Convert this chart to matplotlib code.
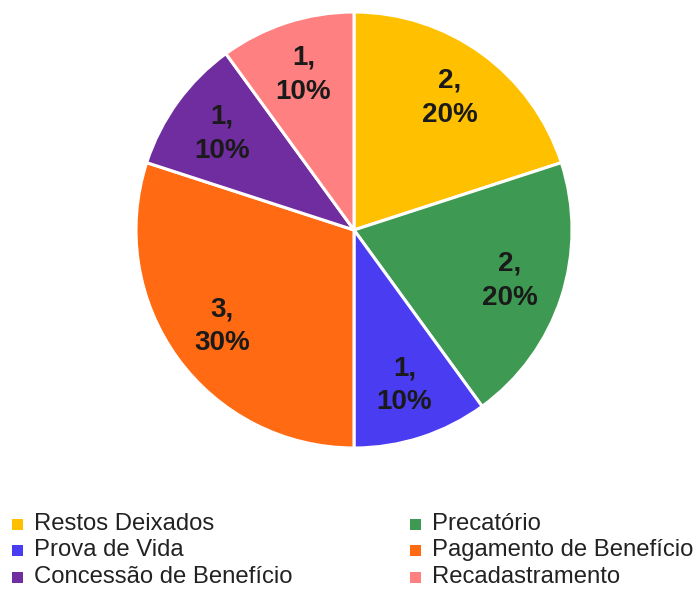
import matplotlib
matplotlib.use("Agg")
import matplotlib.pyplot as plt
from matplotlib.patches import Rectangle

categories = ["Restos Deixados", "Precatório", "Prova de Vida",
              "Pagamento de Benefício", "Concessão de Benefício", "Recadastramento"]
values = [2, 2, 1, 3, 1, 1]
colors = ["#FFC000", "#3E9A52", "#4A3CF0", "#FF6A13", "#6F2DA0", "#FF8080"]

plt.rcParams["font.family"] = ["Liberation Sans", "DejaVu Sans"]

fig = plt.figure(figsize=(7, 5.9), dpi=100)
W, H = 700, 590
cx, cy, r = 354, 230, 218
ax = fig.add_axes([(cx - r) / W, (H - cy - r) / H, 2 * r / W, 2 * r / H])

total = sum(values)
labels = [f"{v},\n{round(100 * v / total)}%" for v in values]

wedges, texts = ax.pie(values, labels=labels, colors=colors, startangle=90,
                       counterclock=False, labeldistance=0.75,
                       wedgeprops=dict(edgecolor="white", linewidth=2.2),
                       textprops=dict(fontsize=20, fontweight="bold", color="#1a1a1a",
                                      ha="center", va="center", linespacing=1.4))
ax.set_xlim(-1, 1)
ax.set_ylim(-1, 1)
ax.set_aspect("equal")
ax.axis("off")

# Two-column legend below the pie
col_x = [12, 410]
row_y = [524, 550, 577]
for i, (name, col) in enumerate(zip(categories, colors)):
    c, rr = i % 2, i // 2
    x, y = col_x[c], row_y[rr]
    fig.patches.append(Rectangle((x / W, (H - y - 5.5) / H), 11 / W, 11 / H,
                                 transform=fig.transFigure, facecolor=col,
                                 edgecolor="none"))
    fig.text((x + 22) / W, (H - y) / H, name, fontsize=17.2, color="#222222",
             ha="left", va="center")

fig.savefig("out.png", dpi=100)
